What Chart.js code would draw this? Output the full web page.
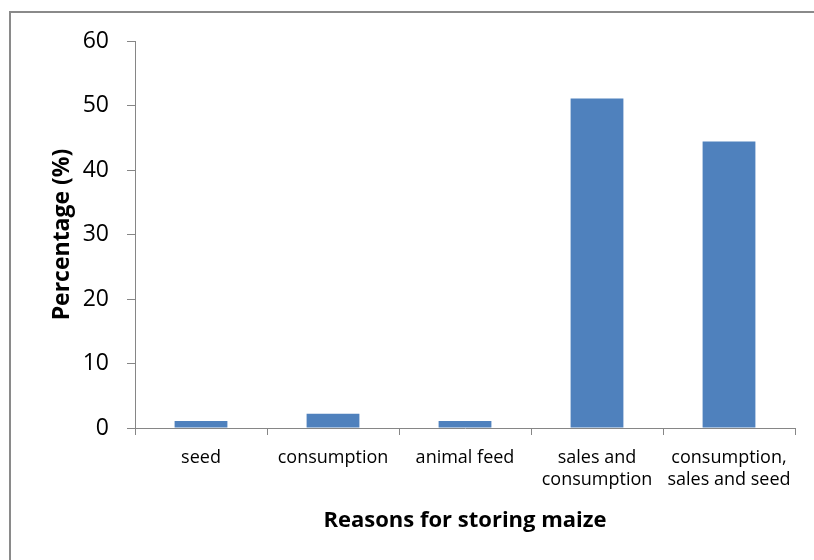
<!DOCTYPE html>
<html>
<head>
<meta charset="utf-8">
<script src="https://cdn.jsdelivr.net/npm/chart.js@4/dist/chart.umd.min.js"></script>
<style>
  html, body { margin: 0; padding: 0; background: #fff; }
  #wrap { position: relative; width: 814px; height: 560px; }
  #frame { position: absolute; left: 9px; top: 11px; width: 810px; height: 560px;
           border-left: 2px solid #8a8a8a; border-top: 2px solid #8a8a8a; box-sizing: border-box; }
  canvas { position: absolute; left: 0; top: 0; }
</style>
</head>
<body>
<div id="wrap">
  <div id="frame"></div>
  <canvas id="chart" width="814" height="560"></canvas>
</div>
<script>
// Reasons respondents gave for storing maize
const categories = [
  "seed",
  "consumption",
  "animal feed",
  ["sales and", "consumption"],
  ["consumption,", "sales and seed"]
];
const percentages = [1.1, 2.2, 1.1, 51.1, 44.4];
const yTicks = [0, 10, 20, 30, 40, 50, 60];

const FONT = "'Open Sans', Lato, sans-serif";
const AXIS_GREY = "#868686";

new Chart(document.getElementById("chart"), {
  type: "bar",
  data: {
    labels: categories,
    datasets: [{
      data: percentages,
      backgroundColor: "#4F81BD",
      borderWidth: 0,
      barPercentage: 0.4,
      categoryPercentage: 1.0
    }]
  },
  options: {
    responsive: false,
    animation: false,
    layout: { padding: { left: 10, top: 41, right: 19, bottom: 0 } },
    plugins: { legend: { display: false }, tooltip: { enabled: false } },
    scales: {
      x: {
        grid: { display: true, drawOnChartArea: false, drawTicks: true, tickLength: 7,
                color: AXIS_GREY, offset: true },
        border: { display: true, color: AXIS_GREY, width: 1 },
        ticks: { color: "#000", font: { family: FONT, size: 18, lineHeight: 1.22 },
                 padding: 12, maxRotation: 0, autoSkip: false },
        title: { display: true, text: "Reasons for storing maize", color: "#000",
                 font: { family: FONT, size: 22, weight: "bold" }, padding: { top: 0, bottom: 26 } },
        afterFit: s => { s.height = 132; }
      },
      y: {
        min: 0, max: 60,
        afterBuildTicks: s => { s.ticks = yTicks.map(v => ({ value: v })); },
        grid: { display: true, drawOnChartArea: false, drawTicks: true, tickLength: 8,
                color: AXIS_GREY },
        border: { display: true, color: AXIS_GREY, width: 1 },
        ticks: { color: "#000", font: { family: FONT, size: 23 }, padding: 18 },
        title: { display: true, text: "Percentage (%)", color: "#000",
                 font: { family: FONT, size: 23, weight: "bold" }, padding: { top: 39, bottom: 0 } },
        afterFit: s => { s.width = 125; }
      }
    }
  }
});
</script>
</body>
</html>
